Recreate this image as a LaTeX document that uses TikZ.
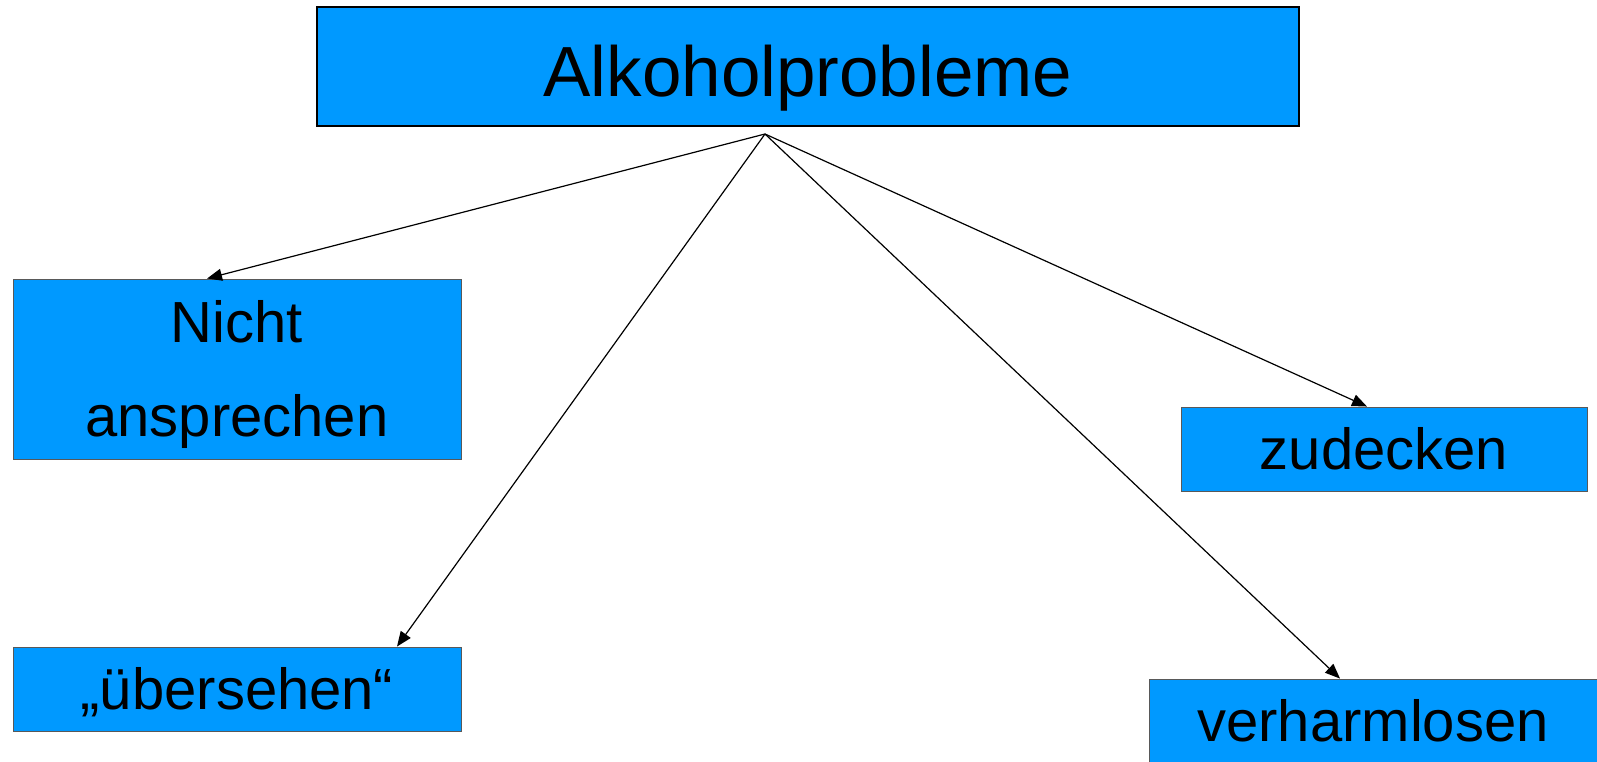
\documentclass[tikz,border=0pt]{standalone}
\usepackage{fontspec}
\setmainfont{Liberation Sans}
\usetikzlibrary{arrows.meta}
\definecolor{boxblue}{RGB}{0,153,255}
\begin{document}
\begin{tikzpicture}[x=1pt,y=-1pt,
  box/.style={draw=black!65, line width=0.9pt, fill=boxblue, inner sep=0pt,
    font=\fontsize{58}{94}\selectfont, text height=40pt, text depth=0pt, align=center},
  titlebox/.style={draw=black, line width=2pt, fill=boxblue, inner sep=0pt,
    font=\fontsize{71}{80}\selectfont, text height=60pt, text depth=0pt},
  conn/.style={line width=1.2pt, -{Triangle[length=15pt,width=12pt]}}]
\useasboundingbox (0,0) rectangle (1597,761);
\clip (0,0) rectangle (1597,761);
\node[titlebox, minimum width=982pt, minimum height=119pt] (title) at (808,66.5) {Alkoholprobleme};
\node[box, minimum width=448pt, minimum height=180pt, text height=134pt] (nicht) at (237,369) {Nicht\\ansprechen};
\node[box, minimum width=448pt, minimum height=84pt] (ueber) at (237,689) {„übersehen“};
\node[box, minimum width=406pt, minimum height=84pt] (zudecken) at (1384,449) {zudecken};
\node[box, minimum width=448pt, minimum height=84pt] (verharm) at (1373,721) {verharmlosen};
\coordinate (apex) at (765,134);
\draw[conn] (apex) -- ([xshift=-30pt]nicht.north);
\draw[conn] (apex) -- ([xshift=160pt]ueber.north);
\draw[conn] (apex) -- ([xshift=-17pt]zudecken.north);
\draw[conn] (apex) -- ([xshift=-33pt]verharm.north);
\end{tikzpicture}
\end{document}
